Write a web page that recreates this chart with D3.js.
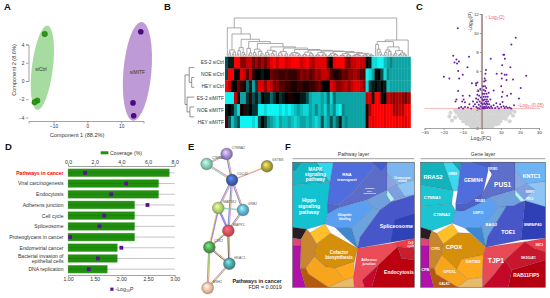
<!DOCTYPE html>
<html>
<head>
<meta charset="utf-8">
<script src="https://cdnjs.cloudflare.com/ajax/libs/d3/7.8.5/d3.min.js"></script>
<style>
  body { margin: 0; background: #fff; }
  svg { display: block; }
  text { font-family: "Liberation Sans", Arial, sans-serif; }
</style>
</head>
<body>
<svg id="fig" width="550" height="298"></svg>
<script>
// ===== DATA =====
// A: PCA
var ctrlPC1 = [-12.6, -14.8, -15.6];
var ctrlPC2 = [5.15, -2.15, -2.33];
var mitfPC1 = [15.8, 13.5, 13.7];
var mitfPC2 = [5.4, -2.4, -3.8];

// B: heatmap, red is up and cyan is down
var heatLabels = ["ES-2 siCtrl", "NOE siCtrl", "HEY siCtrl", "ES-2 siMITF", "NOE siMITF", "HEY siMITF"];
var heatEs2Ctrl = [-3,-1,-1,9,9,5,5,7,7,4,6,4,6,4,6,8,9,7,9,9,7,8,9,9,9,7,8,9,7,6,8,8,8,8,2,0,8,9,9,9,5,4,7,7,8,7,7,0,-1,-8,-8,-9,-9,-7,-6,-5,-6,-6,-6,-6,-6,-6];
var heatNoeCtrl = [-3,9,9,0,1,8,7,3,7,2,0,0,-1,0,0,4,3,3,2,2,3,2,2,2,3,5,4,5,3,4,6,5,7,7,6,3,1,1,2,4,3,5,5,6,5,3,3,-9,-8,-6,0,0,-3,-8,-5,-6,-6,-6,-6,-6,-6,-6];
var heatHeyCtrl = [9,7,0,0,4,2,1,-4,-1,-6,-2,8,8,5,8,7,4,5,3,3,2,2,1,1,2,2,1,1,2,2,3,4,1,0,0,8,7,5,5,6,7,5,7,8,8,7,5,-8,-2,-1,0,-1,0,-1,-7,-6,-6,-6,-6,-6,-6,-6];
var heatEs2Mitf = [-9,-9,-9,7,1,-6,-6,-2,2,-3,-1,-4,0,-1,-1,-4,-2,0,-2,-1,0,1,1,0,0,-1,-1,-3,-6,-7,-7,-7,-6,-7,-4,-8,-4,-6,-6,-6,-6,-6,-6,-6,-6,-6,-6,7,8,1,9,9,0,0,7,6,5,6,6,5,4,6];
var heatNoeMitf = [-1,0,-1,-5,-8,0,2,-1,0,-2,-2,-9,-9,-8,-9,-9,-9,-9,-8,-9,-8,-9,-8,-7,-6,-7,-8,-8,-6,-7,-5,-7,-6,-8,-5,-7,-5,-8,-9,-5,-6,-6,-6,-6,-6,-6,-6,1,6,9,9,9,9,8,9,9,6,6,7,6,9,9];
var heatHeyMitf = [3,-3,-7,-5,-3,-9,-9,-9,-9,-8,-9,-3,0,-2,-5,-6,-7,-8,-6,-7,-7,-6,-7,-8,-7,-6,-6,-7,-6,-7,-8,-7,-3,-7,-6,-3,-6,-4,-1,-6,-5,-6,-6,-6,-6,-6,-6,1,9,8,9,9,9,8,9,9,9,8,9,8,8,9];
var heatRows = [heatEs2Ctrl, heatNoeCtrl, heatHeyCtrl, heatEs2Mitf, heatNoeMitf, heatHeyMitf];

// dendrograms: [height, child, child], a 0 is a leaf
var colTree = [100,
  [74, 0,
    [58, [16, [8,0,0], [10,[4,0,0],0]],
      [44, [22, [14,[5,0,0],0], [9,0,[4,0,0]]],
        [38, [20, 0, [8,[3,0,0],0]],
          [33, [18, [9,0,[3,0,0]], [12, 0, [6,[2,0,0],0]]],
            [24, [15, [9,[3,0,0],[4,0,0]], [12, [7,0,[3,0,0]], 0]],
              [21, [12, [8,[2,0,0],[3,0,0]], [6,[2,0,0],0]],
                [17, [9, [5,[2,0,0],[2,0,0]], [7, 0, [3,[1,0,0],0]]],
                  [15, [10, [4,[1,0,0],[2,0,0]], [6,[2,0,0],[3,0,0]]],
                    [13, [9, [3,[1,0,0],[1,0,0]], [5,[2,0,0],[2,0,0]]],
                      [12, [7, [3,[1,0,0],0], [4,[2,0,0],[1,0,0]]],
                        [9, [6, [2,[1,0,0],[1,0,0]], [3,[1,0,0],[1,0,0]]], [7, [4, [2,[1,0,0],0], [2,0,[1,0,0]]], [5, [3,[1,0,0],[1,0,0]], [2, [1,0,0], [1,0,0]]]]]]]]]]]]]]]],
  [42,
    [38, [30, 0, [18, 0, [10,0,[4,0,0]]]],
      [24, [16, [9,[3,0,0],0], [12,0,[5,0,0]]], [14, [7,[3,0,0],0], [8, [4,[2,0,0],0], [5,0,[2,0,0]]]]]],
    0]];
var rowTree = [100, [55, 0, [28,0,0]], [78, 0, [47,0,0]]];

// C: volcano
var volTicksX = [-30, -20, -10, 0, 10, 20, 30];
var volTicksY = [0, 2, 4, 6, 8, 10, 12];
var sigPoints = [[-12.6,10.5],[17.8,9.5],[15.5,8.8],[-15,7.6],[-6.7,7.5],[-13.3,7.2],[-14.3,6.9],[-12,7],[-13,6.8],[11.3,7.7],[11.7,7.7],[12.1,7.3],[4.7,7.3],[10.7,6.6],[15,6.4],[-7.5,6.4],[-12.4,6],[2.2,6.1],[1.9,5.7],[7.8,5.7],[10.4,5.75],[13,5.6],[12,5.6],[-10,5.6],[-19.9,5.4],[-17,5.2],[-11.9,5.2],[23.3,5.5],[16.4,5.1],[13,5.05],[10.5,5.2],[-5.2,4.7],[-3,4.7],[-2.3,4.8],[-3,4.5],[10.2,4.4],[20.4,4.2],[-12.4,3.9],[6.2,3.95],[10.9,3.8],[15.3,3.6],[13.3,3.4],[-10,3.4],[-6.4,3.4],[10.5,3.3],[19.5,3.1],[-13.3,3],[-13.8,2.8],[-9.5,3],[-10.3,2.8],[-8.8,2.7],[16.9,2.4],
  [-12,2.1],[-10.8,2.2],[-9.8,2.05],[-8.8,2.2],[-7.3,2.15],[-5.6,2.05],[-4.4,2.3],[-6.5,2.5],[-4.6,2.8],[-3.6,2.5],[-3,3.1],[-2.8,2.2],[-2.5,2.7],[-2.3,3.5],[-2.1,2.1],[-1.9,3],[-1.8,3.9],[-1.6,2.45],[-1.4,3.4],[-1.2,2.05],[-1.1,2.8],[-0.8,4.1],[-0.7,2.3],[-0.5,3.2],[-0.3,2.6],
  [0.3,2.1],[0.4,3],[0.5,2.5],[0.6,3.6],[0.7,4.4],[0.8,2.2],[0.9,2.9],[1,3.3],[1.1,2.05],[1.1,4],[1.2,4.9],[1.3,2.6],[1.4,3.6],[1.5,5.2],[1.5,2.2],[1.6,3],[1.7,4.4],[1.8,2.5],[1.9,3.9],[2,5],[2,2.1],[2.1,3.3],[2.2,2.8],[2.3,4.2],[2.4,2.3],[2.5,3.6],[2.6,2.6],[2.7,3],[2.9,2.1],[3,2.5],[3.1,3.3],[3.3,2.8],[3.5,2.2],[3.6,3.7],[3.9,2.5],[4.2,2.1],[4.5,3],[4.9,2.3],[5.4,2.1],
  [6.2,2.4],[7,2.1],[7.6,2.6],[8.2,2.25],[9,2.05],[9.6,2.5],[10.2,2.2],[10.9,2.75],[11.4,2.3],[12,2.1],[12.8,2.25],[13.6,2.1],[14.6,2.15],[15.4,2.05]];
var greyPoints = [[-14,1.85],[-12.6,1.9],[-11.2,1.8],[-9.8,1.88],[-8.4,1.8],[-7,1.9],[-5.6,1.82],[-4.2,1.88],[-2.8,1.8],[-1.4,1.9],[0,1.82],[1.4,1.88],[2.8,1.8],[4.2,1.9],[5.6,1.82],[7,1.88],[8.4,1.8],[9.8,1.9],[11.2,1.82],[12.6,1.88],[14,1.8],[15.6,1.9],
  [-13.2,1.6],[-11.7,1.55],[-10.4,1.62],[-9,1.55],[-7.6,1.6],[-6.2,1.52],[-4.8,1.6],[-3.4,1.55],[-2,1.62],[-0.6,1.52],[0.8,1.6],[2.2,1.52],[3.6,1.62],[5,1.55],[6.4,1.6],[7.8,1.52],[9.2,1.6],[10.6,1.55],[12,1.62],[13.4,1.5],[15,1.55],
  [-12,1.3],[-10.6,1.25],[-9.2,1.32],[-7.8,1.25],[-6.4,1.3],[-5,1.22],[-3.6,1.32],[-2.2,1.25],[-0.8,1.3],[0.6,1.22],[2,1.32],[3.4,1.25],[4.8,1.3],[6.2,1.22],[7.6,1.3],[9,1.25],[10.4,1.32],[11.8,1.22],[13.2,1.28],
  [-11,1.02],[-9.6,0.96],[-8.2,1.04],[-6.8,0.96],[-5.4,1.02],[-4,0.94],[-2.6,1.04],[-1.2,0.96],[0.2,1.02],[1.6,0.94],[3,1.04],[4.4,0.96],[5.8,1.02],[7.2,0.94],[8.6,1.02],[10,0.96],[11.4,1.04],[12.6,0.95],
  [-9.8,0.72],[-8.4,0.68],[-7,0.74],[-5.6,0.66],[-4.2,0.72],[-2.8,0.66],[-1.4,0.74],[0,0.68],[1.4,0.72],[2.8,0.66],[4.2,0.74],[5.6,0.68],[7,0.72],[8.4,0.66],[9.8,0.72],
  [-8,0.44],[-6.6,0.4],[-5.2,0.46],[-3.8,0.4],[-2.4,0.44],[-1,0.38],[0.4,0.46],[1.8,0.4],[3.2,0.44],[4.6,0.38],[6,0.44],[7.4,0.4],[8.8,0.44],
  [-5.6,0.18],[-4.2,0.14],[-2.8,0.2],[-1.4,0.14],[0,0.18],[1.4,0.12],[2.8,0.2],[4.2,0.14],[5.6,0.18],
  [-17,1.2],[-15.6,0.8],[16.4,1.3],[-14,1.1],[17.2,1.7],[-16.4,1.6],[14.6,0.7]];

// D: enrichment
var pathways = ["Pathways in cancer", "Viral carcinogenesis", "Endocytosis", "Adherens junction", "Cell cycle", "Spliceosome", "Proteoglycans in cancer", "Endometrial cancer", "Bacterial invasion of|epithelial cells", "DNA replication"];
var coverage = [7.6, 6.8, 6.8, 5.0, 5.0, 5.0, 5.0, 3.7, 3.7, 2.95];
var logP = [1.32, 2.09, 1.81, 2.49, 1.68, 1.59, 1.04, 2.0, 1.56, 1.39];
var coverageTicks = [0, 2, 4, 6, 8];
var logPTicks = [1, 1.5, 2, 2.5, 3];

// E: network, in layout units
var netGenes = ["CTNNA2", "CTNNA1", "GSTM3", "CDC42", "MAP2K2", "GRB2", "MAPK1", "CDK2", "HDAC1", "MSH2"];
var netX = [125, 65, 246, 141, 100, 174, 130, 73, 133, 68];
var netY = [42, 72, 79, 120, 204, 210, 272, 322, 371, 444];
var netColors = ["#9a85cc", "#7fc6aa", "#a89a3a", "#3f5aa8", "#a8cf6a", "#5fa8c8", "#d84a5a", "#4f9a4f", "#4a9a9a", "#e8b898"];
var netEdges = [[0,1],[0,3],[1,3],[2,3],[3,4],[3,5],[3,6],[4,5],[4,6],[5,6],[6,7],[4,7],[7,8],[7,9],[8,9],[6,8]];
var edgeInks = [["#d94fc8","#d8d84a","#59b8c8"],["#d94fc8","#d8d84a","#4a63c8"],["#d94fc8","#d8d84a","#59b8c8"],["#d94fc8","#d8d84a"],["#d94fc8","#d8d84a","#4a63c8"],["#d94fc8","#d8d84a","#4a63c8"],["#d94fc8","#d8d84a","#4a63c8"],["#59c8c8","#8fd86a"],["#4a63e8","#d94fc8","#4a63e8"],["#d94fc8","#d8d84a","#4a63c8"],["#4a63e8","#d94fc8","#d8d84a"],["#d94fc8","#4a63c8","#d8d84a"],["#d94fc8","#d8d84a","#333333"],["#d94fc8","#d8d84a","#5aa050"],["#5aa050","#d8d84a","#d94fc8"],["#d94fc8","#d8d84a","#333333"]];

// F: voronoi treemap corners, in layout units of each panel
var pathwayCorners = [
  [[23,67],[50,67],[30,95],[23,90]],
  [[50,67],[95,67],[118,100],[135,127],[23,135],[23,90],[30,95]],
  [[95,67],[145,67],[135,127],[118,100]],
  [[23,135],[135,127],[128,222],[120,252],[65,268],[23,262]],
  [[145,67],[280,67],[205,155],[160,195],[128,190],[135,127]],
  [[128,190],[160,195],[158,205],[128,222]],
  [[280,67],[307,67],[307,150],[245,180],[158,205],[160,195],[205,155]],
  [[262,67],[307,67],[290,92]],
  [[307,67],[388,67],[388,120],[335,135],[307,100]],
  [[307,100],[335,135],[307,150]],
  [[335,135],[388,120],[388,165],[360,170]],
  [[307,150],[335,135],[360,170],[328,178]],
  [[245,180],[307,150],[305,165],[318,186],[285,210],[265,205]],
  [[307,150],[328,178],[318,186],[305,165]],
  [[328,178],[360,170],[388,165],[318,186]],
  [[158,205],[245,180],[265,205],[200,265],[150,262],[120,252],[128,222]],
  [[200,265],[265,205],[285,210],[225,292],[218,325]],
  [[150,262],[200,265],[218,325],[180,292]],
  [[318,186],[388,165],[388,295],[218,325],[225,292],[285,210]],
  [[330,240],[388,222],[388,295],[318,305]],
  [[23,262],[65,268],[48,298],[23,295]],
  [[23,295],[48,298],[48,318],[23,318]],
  [[23,318],[48,318],[46,385],[62,442],[23,442]],
  [[65,268],[75,278],[95,312],[88,350],[62,385],[46,385],[48,298]],
  [[75,278],[120,252],[137,280],[95,312]],
  [[95,312],[137,280],[218,325],[208,365],[150,385],[120,380],[88,350]],
  [[88,350],[120,380],[150,385],[180,420],[130,442],[70,402],[62,385]],
  [[150,385],[208,365],[205,412],[180,420]],
  [[46,385],[62,385],[70,402],[130,442],[62,442]],
  [[180,420],[205,412],[208,442],[130,442]],
  [[218,325],[320,310],[338,320],[280,375],[232,420],[238,442],[208,442],[205,412]],
  [[320,310],[388,295],[388,325],[338,320]],
  [[338,320],[388,325],[388,360],[350,355]],
  [[280,375],[338,320],[350,355],[388,360],[388,442],[260,442]],
  [[232,420],[280,375],[260,442],[238,442]]];
var pathwayColors = ["#0a9cab","#12b8c6","#2fd6ef","#13c2d0","#4f6ddd","#5068c8","#5c6dc9","#3f60d5","#7db5ef","#8aa5e0","#8ec5f5","#7f9fe3","#6f9fdc","#aef3f7","#7fb8ee","#5b9ff3","#6aa3dd","#3f88d0","#4757ca","#2f42b8","#2a1c20","#e0457a","#b012a8","#c8862e","#ffc02a","#d68f0a","#f7a51c","#ffa91d","#b5590f","#e8bb6a","#ec4b58","#ee3b4a","#c81e2e","#bb0010","#c8082a"];
var pathwayLabels = [["MAPK",91,92,4.8],["signaling",91,108,4.8],["pathway",91,124,4.8],["Hippo",72,187,5],["signaling",72,204,5],["pathway",72,221,5],["RNA",186,107,4.4],["transport",186,123,4.4],["Transfer",254,147,2.4],["RNA",254,155,2.4],["biogenesis",254,163,2.4],["Chromosome",352,117,2.6],["related",352,127,2.6],["Ubiquitin",179,229,3.2],["labeling",179,240,3.2],["Spliceosome",334,263,5.4],["Cofactor",162,343,4.5],["biosynthesis",162,358,4.5],["Adherens",252,362,3.4],["junction",252,375,3.4],["Cell",377,312,2.8],["cycle",377,322,2.8],["Endocytosis",342,402,5]];
var geneCorners = [
  [[17,67],[85,67],[115,152],[17,135]],
  [[85,67],[138,67],[128,152],[115,152]],
  [[112,67],[138,67],[134,92]],
  [[17,135],[115,152],[110,192],[17,200]],
  [[17,200],[110,192],[122,212],[112,250],[50,272],[17,262]],
  [[138,67],[225,67],[205,155],[150,192],[122,190],[128,152]],
  [[170,67],[300,67],[230,100],[215,80]],
  [[225,67],[300,67],[300,150],[225,172],[195,190],[205,155],[230,105]],
  [[205,155],[195,190],[146,214],[122,212],[122,190],[150,192]],
  [[300,67],[391,67],[391,125],[335,132],[300,90]],
  [[300,90],[335,132],[300,150]],
  [[300,150],[335,132],[360,148],[328,180]],
  [[335,132],[391,125],[391,200],[330,182],[360,148]],
  [[300,150],[328,180],[318,186],[300,165]],
  [[225,172],[300,150],[300,165],[318,186],[295,198],[252,203]],
  [[146,214],[195,190],[225,172],[252,203],[200,262],[150,265],[112,250],[122,212]],
  [[200,262],[252,203],[275,198],[218,290],[212,322]],
  [[150,265],[200,262],[212,322],[180,292]],
  [[275,198],[295,198],[318,186],[330,182],[318,300],[212,322],[218,290]],
  [[330,182],[391,200],[391,295],[318,300]],
  [[17,262],[50,272],[42,298],[17,295]],
  [[17,295],[42,298],[42,318],[17,318]],
  [[17,318],[42,318],[42,385],[56,442],[17,442]],
  [[50,272],[65,280],[85,312],[80,345],[58,385],[42,385],[42,298]],
  [[65,280],[112,252],[130,278],[85,312]],
  [[85,312],[130,278],[165,280],[212,322],[205,345],[140,358],[125,388],[80,345]],
  [[80,345],[125,388],[160,418],[128,442],[62,402],[58,385]],
  [[140,358],[205,345],[202,412],[160,418],[125,388]],
  [[42,385],[58,385],[62,402],[128,442],[56,442]],
  [[160,418],[202,412],[203,442],[128,442]],
  [[212,322],[330,305],[270,360],[240,400],[203,442],[202,412],[205,345]],
  [[330,305],[391,295],[391,335],[358,325]],
  [[330,305],[358,325],[391,335],[391,360],[290,390],[270,360]],
  [[290,390],[391,360],[391,442],[280,442]],
  [[240,400],[270,360],[290,390],[280,442],[203,442]]];
var geneColors = ["#12b3bd","#3ad9f0","#12a8b8","#1bc5d2","#1cc4d3","#4f6ddd","#4a62c8","#5d6ecb","#4a62c8","#6eb4f4","#86a8e4","#7f9fe3","#8ec5f5","#aef3f7","#6f9fdc","#5ca0f2","#6aa3dd","#3f88d0","#4757ca","#2f3fb5","#2a1c20","#e0457a","#b012a8","#c8862e","#ffc02a","#d68f0a","#f7a51c","#ffa91d","#b5590f","#e8bb6a","#e94a58","#ee3b4a","#c8162c","#b40011","#c4082a"];
var geneLabels = [["RRAS2",54,116,5.6],["GRB2",113,104,3.2],["CTNNA1",52,176,4.2],["CTNNA2",80,229,4.2],["GEMIN4",175,126,4.9],["EIF2B3",233,89,2.8],["PUS1",263,141,6.6],["TRUB1",195,185,3.2],["KNTC1",350,114,5.4],["NSRP1",345,158,2.6],["RPL5",345,180,2.6],["USP11",190,223,3.4],["BAG2",229,258,4.2],["TOE1",280,281,5.4],["SNRNP40",353,257,3.9],["CPOX",117,328,5.8],["GSTM3",174,368,4.2],["GPD1L",104,399,3.8],["GALK1",88,434,3.2],["CYP51",62,331,2.8],["TJP1",243,369,6.8],["SMC3",373,317,2.8],["SH3GLB1",340,358,3.2],["RAB11FIP5",334,412,4.9],["CFB",31,392,3.8]];

// ===== DRAWING =====
var svg = d3.select("#fig");
var inkGrey = "#333";
var axisGrey = "#8c8c8c";

var panels = [["A",4,9.5],["B",164,9.5],["C",416,9.5],["D",5,150],["E",188,150],["F",285,150]];
svg.selectAll(".letter").data(panels).enter().append("text")
  .attr("class", "letter")
  .attr("x", function(d) { return d[1]; })
  .attr("y", function(d) { return d[2]; })
  .attr("font-size", 9.5).attr("font-weight", "bold").attr("fill", "#111")
  .text(function(d) { return d[0]; });

// styles one of d3's axes: grey line and small dark labels
function styleAxis(g, size) {
  g.selectAll("path,line").attr("stroke", axisGrey).attr("stroke-width", 0.8);
  g.selectAll("text").attr("font-size", size).attr("fill", inkGrey)
    .attr("font-family", "'Liberation Sans', Arial, sans-serif");
}

// ===== A: PCA =====
var pcaX = d3.scaleLinear().domain([-17.4, 16.6]).range([28.5, 143.5]);
var pcaY = d3.scaleLinear().domain([0, 4]).range([81, 44.5]);
var pca = svg.append("g");
pca.append("ellipse")
  .attr("transform", "translate(" + pcaX(-13.3) + "," + pcaY(1.45) + ") rotate(7)")
  .attr("rx", 10.5).attr("ry", 42.5).attr("fill", "#a6dca0");
pca.append("ellipse")
  .attr("transform", "translate(" + pcaX(14.8) + "," + pcaY(1.06) + ") rotate(5)")
  .attr("rx", 14).attr("ry", 49.5).attr("fill", "#be9bd6");
pca.append("g").attr("transform", "translate(28.5,0)")
  .call(d3.axisLeft(pcaY).tickValues([-4, -2, 0, 2, 4]).tickFormat(d3.format("d")).tickSize(2.5).tickPadding(1.5))
  .call(styleAxis, 4.8);
pca.append("g").attr("transform", "translate(0,121)")
  .call(d3.axisBottom(pcaX).tickValues([-10, 0, 10]).tickFormat(d3.format("d")).tickSize(2.5).tickPadding(1.5))
  .call(styleAxis, 4.8);
pca.selectAll(".ctrl").data(ctrlPC1).enter().append("circle")
  .attr("cx", function(d) { return pcaX(d); })
  .attr("cy", function(d, i) { return pcaY(ctrlPC2[i]); })
  .attr("r", 2.7).attr("fill", "#2a9a14").attr("stroke", "#14600a").attr("stroke-width", 0.5);
pca.selectAll(".mitf").data(mitfPC1).enter().append("circle")
  .attr("cx", function(d) { return pcaX(d); })
  .attr("cy", function(d, i) { return pcaY(mitfPC2[i]); })
  .attr("r", 2.8).attr("fill", "#4b0a82");
pca.append("text").attr("x", 41).attr("y", 70.5).attr("text-anchor", "middle").attr("font-size", 5).attr("fill", inkGrey).text("siCtrl");
pca.append("text").attr("x", 137.5).attr("y", 73.5).attr("text-anchor", "middle").attr("font-size", 5).attr("fill", inkGrey).text("siMITF");
pca.append("text").attr("x", 77).attr("y", 137).attr("text-anchor", "middle").attr("font-size", 5.6).attr("fill", inkGrey).text("Component 1 (88.2%)");
pca.append("text").attr("transform", "translate(16,70) rotate(-90)").attr("text-anchor", "middle").attr("font-size", 5.6).attr("fill", inkGrey).text("Component 2 (8.6%)");

// ===== B: HEATMAP =====
var heatX = d3.scaleBand().domain(d3.range(heatRows[0].length)).range([225, 410.5]);
var heatY = d3.scaleBand().domain(d3.range(heatRows.length)).range([56.7, 127.7]);
var heatColor = d3.scaleLinear().domain([-9, 0, 9]).range(["#10f4f4", "#000000", "#ff0000"]);
var heat = svg.append("g");
heatRows.forEach(function(row, r) {
  heat.selectAll(".c" + r).data(row).enter().append("rect")
    .attr("x", function(d, i) { return heatX(i); })
    .attr("y", heatY(r))
    .attr("width", heatX.bandwidth() + 0.3)
    .attr("height", heatY.bandwidth() + 0.3)
    .attr("fill", function(d) { return heatColor(d); });
});
heat.selectAll(".rowlabel").data(heatLabels).enter().append("text")
  .attr("x", 224)
  .attr("y", function(d, i) { return heatY(i) + heatY.bandwidth() / 2 + 1.8; })
  .attr("text-anchor", "end").attr("font-size", 4.9).attr("fill", inkGrey)
  .text(function(d) { return d; });

// lays a nested [height, child, child] tree out with d3.cluster and traces it
function dendroPath(tree, span, position, level) {
  var root = d3.hierarchy(tree, function(d) { return Array.isArray(d) ? d.slice(1) : null; });
  d3.cluster().size([span, 1]).separation(function() { return 1; })(root);
  var path = d3.path();
  root.descendants().forEach(function(n) {
    if (!n.children) return;
    var h = level(n.data[0]);
    var first = n.children[0], last = n.children[n.children.length - 1];
    position(path, first.x, h, true);
    position(path, last.x, h, false);
    n.children.forEach(function(c) {
      position(path, c.x, h, true);
      position(path, c.x, level(Array.isArray(c.data) ? c.data[0] : 0), false);
    });
  });
  return path.toString();
}
var colLevel = d3.scaleLinear().domain([0, 100]).range([56, 18]);
var rowLevel = d3.scaleLinear().domain([0, 100]).range([194.3, 185]);
var colSpan = heatX(heatRows[0].length - 1) - heatX(0);
heat.append("path")
  .attr("d", dendroPath(colTree, colSpan, function(p, x, y, start) {
    var px = x + heatX(0) + heatX.bandwidth() / 2;
    if (start) p.moveTo(px, y); else p.lineTo(px, y);
  }, colLevel))
  .attr("fill", "none").attr("stroke", "#868686").attr("stroke-width", 0.7);
heat.append("path")
  .attr("d", dendroPath(rowTree, heatY(5) - heatY(0), function(p, y, x, start) {
    var py = y + heatY(0) + heatY.bandwidth() / 2;
    if (start) p.moveTo(x, py); else p.lineTo(x, py);
  }, rowLevel))
  .attr("fill", "none").attr("stroke", "#666").attr("stroke-width", 0.7);

// ===== C: VOLCANO =====
var volX = d3.scaleLinear().domain([-30, 30]).range([424.6, 539]);
var volY = d3.scaleLinear().domain([0, 12]).range([128, 14]);
var vol = svg.append("g");
vol.selectAll(".grey").data(greyPoints).enter().append("circle")
  .attr("cx", function(d) { return volX(d[0]); })
  .attr("cy", function(d) { return volY(d[1]); })
  .attr("r", 2).attr("fill", "#d4d4d4");
vol.append("line")
  .attr("x1", 424.6).attr("x2", 540).attr("y1", volY(2.05)).attr("y2", volY(2.05))
  .attr("stroke", "#f7b5b8").attr("stroke-width", 0.9);
vol.append("line")
  .attr("x1", volX(0)).attr("x2", volX(0)).attr("y1", 14).attr("y2", 128)
  .attr("stroke", "#d59a9a").attr("stroke-width", 1.8);
vol.append("g").attr("transform", "translate(" + volX(0) + ",0)")
  .call(d3.axisLeft(volY).tickValues(volTicksY).tickFormat(d3.format("d")).tickSize(2).tickPadding(1))
  .call(styleAxis, 4.4);
vol.append("g").attr("transform", "translate(0,128)")
  .call(d3.axisBottom(volX).tickValues(volTicksX).tickFormat(d3.format("d")).tickSize(2).tickPadding(1))
  .call(styleAxis, 4.4);
vol.selectAll(".sig").data(sigPoints).enter().append("circle")
  .attr("cx", function(d) { return volX(d[0]); })
  .attr("cy", function(d) { return volY(d[1]); })
  .attr("r", 1).attr("fill", "#6a1fa8");
var fc = vol.append("text").attr("x", 485).attr("y", 18.5).attr("font-size", 4.8).attr("fill", "#ef5f6f");
fc.append("tspan").text("\u2195 Log");
fc.append("tspan").attr("font-size", 3.4).attr("dy", 1).text("2");
fc.append("tspan").attr("dy", -1).text("(2)");
var pv = vol.append("text").attr("x", 518).attr("y", 107).attr("font-size", 4.8).attr("fill", "#ef5f6f");
pv.append("tspan").text("-Log");
pv.append("tspan").attr("font-size", 3.4).attr("dy", 1).text("10");
pv.append("tspan").attr("dy", -1).text("(0.05)");
var yt = vol.append("text").attr("transform", "translate(471.5,22) rotate(-90)").attr("text-anchor", "middle").attr("font-size", 4.8).attr("fill", inkGrey);
yt.append("tspan").text("-Log");
yt.append("tspan").attr("font-size", 3.4).attr("dy", 1).text("10");
yt.append("tspan").attr("dy", -1).text("(P)");
var xt = vol.append("text").attr("x", 481).attr("y", 140).attr("text-anchor", "middle").attr("font-size", 5).attr("fill", inkGrey);
xt.append("tspan").text("Log");
xt.append("tspan").attr("font-size", 3.6).attr("dy", 1).text("2");
xt.append("tspan").attr("dy", -1).text("(FC)");

// ===== D: BARS =====
var covX = d3.scaleLinear().domain([0, 8]).range([68, 174.7]);
var pX = d3.scaleLinear().domain([1, 3]).range([68, 174.7]);
var barY = d3.scaleBand().domain(pathways).range([167.5, 274.5]).paddingInner(0.26).paddingOuter(0.13);
var bars = svg.append("g");
bars.append("g").attr("transform", "translate(0,166)")
  .call(d3.axisTop(covX).tickValues(coverageTicks).tickFormat(d3.format(".1f")).tickSize(1.5).tickPadding(1))
  .call(styleAxis, 5.2);
bars.append("g").attr("transform", "translate(0,275)")
  .call(d3.axisBottom(pX).tickValues(logPTicks).tickFormat(d3.format(".2f")).tickSize(1.5).tickPadding(1))
  .call(styleAxis, 5.2);
bars.selectAll(".track").data(pathways).enter().append("line")
  .attr("x1", 68).attr("x2", 174.7)
  .attr("y1", function(d) { return barY(d) + barY.bandwidth() / 2; })
  .attr("y2", function(d) { return barY(d) + barY.bandwidth() / 2; })
  .attr("stroke", "#c4c4c4").attr("stroke-width", 1);
bars.selectAll(".bar").data(coverage).enter().append("rect")
  .attr("x", 68)
  .attr("y", function(d, i) { return barY(pathways[i]); })
  .attr("width", function(d) { return covX(d) - 68; })
  .attr("height", barY.bandwidth())
  .attr("fill", "#22900f").attr("stroke", "#7dbb74").attr("stroke-width", 0.4);
bars.selectAll(".mid").data(coverage).enter().append("line")
  .attr("x1", 68).attr("x2", function(d) { return covX(d); })
  .attr("y1", function(d, i) { return barY(pathways[i]) + barY.bandwidth() / 2; })
  .attr("y2", function(d, i) { return barY(pathways[i]) + barY.bandwidth() / 2; })
  .attr("stroke", "#17700a").attr("stroke-width", 0.5);
bars.selectAll(".mark").data(logP).enter().append("rect")
  .attr("x", function(d) { return pX(d) - 1.9; })
  .attr("y", function(d, i) { return barY(pathways[i]) + barY.bandwidth() / 2 - 1.9; })
  .attr("width", 3.8).attr("height", 3.8).attr("fill", "#5a1095");
bars.selectAll(".name").data(pathways).enter().append("text")
  .attr("x", 63.5)
  .attr("y", function(d) { return barY(d) + barY.bandwidth() / 2 + 1.9; })
  .attr("text-anchor", "end").attr("font-size", 5.1)
  .attr("fill", function(d, i) { return i == 0 ? "#ff0000" : inkGrey; })
  .attr("font-weight", function(d, i) { return i == 0 ? "bold" : "normal"; })
  .each(function(d) {
    var lines = d.split("|");
    if (lines.length == 1) { d3.select(this).text(d); return; }
    d3.select(this).attr("dy", -2.8).text(lines[0]);
    d3.select(this.parentNode).append("text")
      .attr("x", 63.5).attr("y", barY(d) + barY.bandwidth() / 2 + 4.7)
      .attr("text-anchor", "end").attr("font-size", 5.1).attr("fill", inkGrey).text(lines[1]);
  });
bars.append("rect").attr("x", 100.7).attr("y", 151.3).attr("width", 7.7).attr("height", 3).attr("fill", "#22900f");
bars.append("text").attr("x", 110).attr("y", 154.8).attr("font-size", 5.2).attr("fill", inkGrey).text("Coverage (%)");
bars.append("rect").attr("x", 110.3).attr("y", 287.6).attr("width", 3.2).attr("height", 3.2).attr("fill", "#5a1095");
var lp = bars.append("text").attr("x", 115.5).attr("y", 291.3).attr("font-size", 5.2).attr("fill", inkGrey);
lp.append("tspan").text("-Log");
lp.append("tspan").attr("font-size", 3.6).attr("dy", 1).text("10");
lp.append("tspan").attr("dy", -1).text("P");

// ===== E: NETWORK =====
var layoutX = d3.scaleLinear().domain([0, 300]).range([185, 285]);
var layoutY = d3.scaleLinear().domain([0, 474]).range([140, 298]);
var net = svg.append("g");
netEdges.forEach(function(e, i) {
  var x1 = layoutX(netX[e[0]]), y1 = layoutY(netY[e[0]]);
  var x2 = layoutX(netX[e[1]]), y2 = layoutY(netY[e[1]]);
  var len = Math.sqrt((x2 - x1) * (x2 - x1) + (y2 - y1) * (y2 - y1));
  var nx = -(y2 - y1) / len, ny = (x2 - x1) / len;
  var inks = edgeInks[i];
  inks.forEach(function(ink, k) {
    var off = (k - (inks.length - 1) / 2) * 0.65;
    net.append("line")
      .attr("x1", x1 + nx * off).attr("y1", y1 + ny * off)
      .attr("x2", x2 + nx * off).attr("y2", y2 + ny * off)
      .attr("stroke", ink).attr("stroke-width", 0.7);
  });
});
var defs = svg.append("defs");
netColors.forEach(function(c, i) {
  var grad = defs.append("radialGradient").attr("id", "ball" + i).attr("cx", "50%").attr("cy", "50%").attr("r", "55%").attr("fx", "38%").attr("fy", "32%");
  grad.append("stop").attr("offset", "0%").attr("stop-color", d3.color(c).brighter(1.3));
  grad.append("stop").attr("offset", "65%").attr("stop-color", c);
  grad.append("stop").attr("offset", "100%").attr("stop-color", d3.color(c).darker(0.9));
});
net.selectAll("circle").data(netGenes).enter().append("circle")
  .attr("cx", function(d, i) { return layoutX(netX[i]); })
  .attr("cy", function(d, i) { return layoutY(netY[i]); })
  .attr("r", 6)
  .attr("fill", function(d, i) { return "url(#ball" + i + ")"; })
  .attr("stroke", "#777").attr("stroke-width", 0.3);
net.selectAll(".gene").data(netGenes).enter().append("text")
  .attr("x", function(d, i) { return layoutX(netX[i]) + 5; })
  .attr("y", function(d, i) { return layoutY(netY[i]) - 5; })
  .attr("font-size", 3.3).attr("fill", "#555")
  .text(function(d) { return d; });
net.append("text").attr("x", 281.7).attr("y", 283).attr("text-anchor", "end").attr("font-size", 5.3).attr("font-weight", "bold").attr("fill", "#222").text("Pathways in cancer");
net.append("text").attr("x", 281.7).attr("y", 289).attr("text-anchor", "end").attr("font-size", 5.3).attr("fill", "#222").text("FDR = 0.0019");

// ===== F: VORONOI TREEMAPS =====
function drawTreemap(corners, colors, labels, title, domX, rangeX) {
  var sx = d3.scaleLinear().domain(domX).range(rangeX);
  var sy = d3.scaleLinear().domain([67, 442]).range([162.3, 287.3]);
  var line = d3.line().x(function(p) { return sx(p[0]); }).y(function(p) { return sy(p[1]); }).curve(d3.curveLinearClosed);
  var g = svg.append("g");
  g.append("text").attr("x", (rangeX[0] + rangeX[1]) / 2).attr("y", 155.8).attr("text-anchor", "middle").attr("font-size", 5).attr("fill", inkGrey).text(title);
  g.append("line").attr("x1", rangeX[0]).attr("x2", rangeX[1]).attr("y1", 158.7).attr("y2", 158.7).attr("stroke", "#777").attr("stroke-width", 0.7);
  g.selectAll("path").data(corners).enter().append("path")
    .attr("d", line)
    .attr("fill", function(d, i) { return colors[i]; })
    .attr("stroke", "#3a3a4a").attr("stroke-opacity", 0.45).attr("stroke-width", 0.35);
  g.append("rect").attr("x", rangeX[0]).attr("y", 162.3).attr("width", rangeX[1] - rangeX[0]).attr("height", 125)
    .attr("fill", "none").attr("stroke", "#555").attr("stroke-width", 0.5);
  g.selectAll(".lab").data(labels).enter().append("text")
    .attr("x", function(d) { return sx(d[1]); })
    .attr("y", function(d) { return sy(d[2]); })
    .attr("text-anchor", "middle")
    .attr("font-size", function(d) { return d[3]; })
    .attr("font-weight", "bold").attr("fill", "#fff")
    .text(function(d) { return d[0]; });
}
drawTreemap(pathwayCorners, pathwayColors, pathwayLabels, "Pathway layer", [23, 388], [292.7, 414.3]);
drawTreemap(geneCorners, geneColors, geneLabels, "Gene layer", [17, 391], [420.7, 545.3]);
</script>
</body>
</html>
